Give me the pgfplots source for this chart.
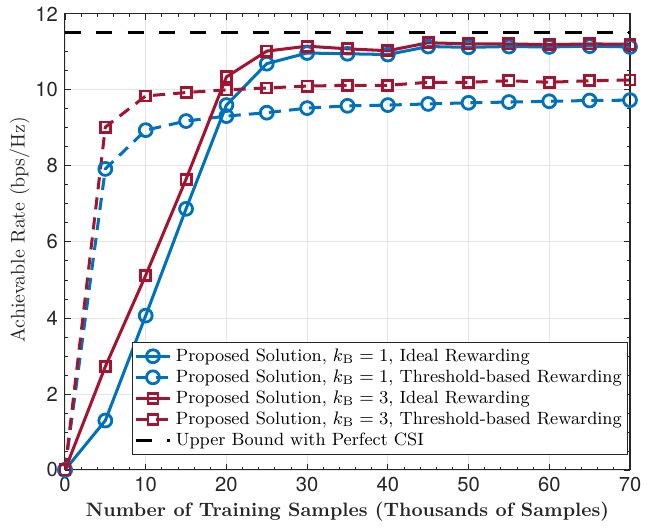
\documentclass[border=0pt]{standalone}
\usepackage{pgfplots}
\pgfplotsset{compat=1.18}
\usepackage{fontspec}
\newfontfamily\heros{TeX Gyre Heros}
\definecolor{mblue}{rgb}{0,0.447,0.741}
\definecolor{mred}{rgb}{0.635,0.078,0.184}
\definecolor{axgray}{gray}{0.15}
\pgfplotstableread{
x a b c d
0 0 0 0 0
5 1.30 7.92 2.72 9.02
10 4.06 8.94 5.12 9.84
15 6.87 9.18 7.65 9.93
20 9.60 9.31 10.34 10.00
25 10.69 9.40 11.02 10.05
30 10.97 9.52 11.15 10.10
35 10.95 9.58 11.08 10.12
40 10.93 9.60 11.03 10.12
45 11.14 9.63 11.24 10.20
50 11.12 9.66 11.21 10.20
55 11.14 9.68 11.21 10.24
60 11.13 9.70 11.19 10.20
65 11.15 9.72 11.21 10.24
70 11.13 9.73 11.20 10.26
}\datatable
\begin{document}
\begin{tikzpicture}
\begin{axis}[
  scale only axis,
  width=280pt, height=226pt,
  xmin=0, xmax=70, ymin=0, ymax=12,
  xtick={0,10,...,70}, ytick={0,2,...,12},
  minor x tick num=4, minor y tick num=3,
  tick align=inside,
  major tick length=3pt, minor tick length=1.6pt,
  axis line style={axgray, line width=0.5pt},
  tick style={axgray, line width=0.4pt},
  grid=major,
  major grid style={gray!20, line width=0.4pt},
  /pgf/number format/assume math mode=true,
  ticklabel style={font=\heros\fontsize{10}{12}\selectfont, text=axgray},
  xlabel={\textbf{Number of Training Samples (Thousands of Samples)}},
  ylabel={Achievable Rate (bps/Hz)},
  xlabel style={font=\fontsize{9.6}{11}\selectfont, text=axgray, yshift=2pt},
  ylabel style={font=\fontsize{9.8}{11}\selectfont, text=axgray, yshift=-4pt, xshift=6pt},
  legend style={at={(0.997,0.033)}, anchor=south east, font=\fontsize{8.8}{10}\selectfont,
    draw=axgray, line width=0.5pt, inner sep=1pt, row sep=-1.3pt, fill=white},
  legend cell align=left,
]
\addplot[mblue, line width=1.5pt, mark=o, mark size=3.2pt, mark options={solid, fill=white, line width=1.4pt}] table[x=x,y=a] {\datatable};
\addlegendentry{Proposed Solution, $k_{\mathrm{B}}=1$, Ideal Rewarding}
\addplot[mblue, line width=1.5pt, dash pattern=on 6pt off 4pt, mark=o, mark size=3.2pt, mark options={solid, fill=white, line width=1.4pt}] table[x=x,y=b] {\datatable};
\addlegendentry{Proposed Solution, $k_{\mathrm{B}}=1$, Threshold-based Rewarding}
\addplot[mred, line width=1.5pt, mark=square, mark size=2.5pt, mark options={solid, fill=white, line width=1.4pt}] table[x=x,y=c] {\datatable};
\addlegendentry{Proposed Solution, $k_{\mathrm{B}}=3$, Ideal Rewarding}
\addplot[mred, line width=1.5pt, dash pattern=on 6pt off 4pt, mark=square, mark size=2.5pt, mark options={solid, fill=white, line width=1.4pt}] table[x=x,y=d] {\datatable};
\addlegendentry{Proposed Solution, $k_{\mathrm{B}}=3$, Threshold-based Rewarding}
\addplot[black, line width=1.6pt, dash pattern=on 8pt off 7.5pt] coordinates {(0,11.5) (70,11.5)};
\addlegendentry{Upper Bound with Perfect CSI}
\end{axis}
\path (current axis.south west) ++(-32.2pt,-27.3pt) coordinate (bbA);
\path (current axis.north east) ++(11.9pt,6.4pt) coordinate (bbB);
\path (bbA) -- (bbB);
\end{tikzpicture}
\end{document}
